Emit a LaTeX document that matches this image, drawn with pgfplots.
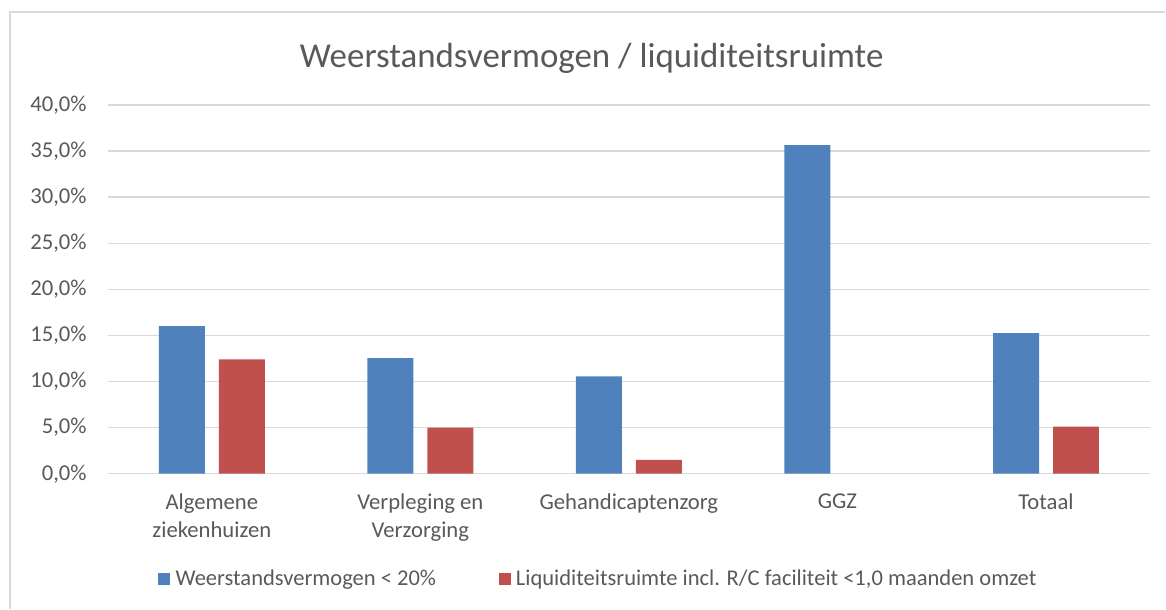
\documentclass[border=0pt]{standalone}
\usepackage{pgfplots}
\pgfplotsset{compat=1.18}
\usepackage{fontspec}
\setmainfont{Carlito}
\definecolor{cblue}{HTML}{4F81BD}
\definecolor{cred}{HTML}{C0504D}
\definecolor{ctext}{HTML}{595959}
\definecolor{cgrid}{HTML}{D9D9D9}
\begin{document}
\begin{tikzpicture}
\path (0pt,0pt) rectangle (874.5pt,-456.75pt);
\draw[cgrid, line width=1pt] (7.5pt,-456.75pt) -- (7.5pt,-9pt) -- (874.5pt,-9pt);
\node[text=ctext, font=\fontsize{26.2}{30}\selectfont, inner sep=0pt] at (444pt,-43.5pt) {Weerstandsvermogen / liquiditeitsruimte};
\begin{axis}[
  at={(80.7pt,-355.5pt)}, anchor=south west,
  scale only axis, width=782.5pt, height=276.75pt,
  xmin=-0.5, xmax=4.5, ymin=0, ymax=40,
  ytick={0,5,...,40},
  xtick={0,1,2,3,4},
  xticklabels={{Algemene\\ziekenhuizen},{Verpleging en\\Verzorging},Gehandicaptenzorg,GGZ,Totaal},
  axis x line*=bottom, axis y line*=left,
  x axis line style={cgrid, line width=1pt, -},
  y axis line style={draw=none},
  ymajorgrids, grid style={cgrid, line width=1pt},
  major tick length=0pt,
  tick style={draw=none},
  /pgf/number format/assume math mode=true,
  yticklabel={\pgfmathprintnumber[fixed,fixed zerofill,precision=1,use comma]{\tick}\%},
  yticklabel style={anchor=east, inner sep=0pt, xshift=-15.5pt, text=ctext, font=\fontsize{17}{20}\selectfont},
  xticklabel style={anchor=north, inner sep=0pt, yshift=-15pt, align=center, text=ctext, font=\fontsize{17}{21}\selectfont},
  ybar, bar width=34.5pt,
  legend columns=2,
  legend style={at={(0.471,-0.2846)}, anchor=center, draw=none, fill=none,
    font=\fontsize{16.9}{20}\selectfont, text=ctext,
    /tikz/every odd column/.append style={column sep=2pt},
    /tikz/every even column/.append style={column sep=45pt}},
  legend image code/.code={\fill[#1] (0pt,-4.5pt) rectangle (9pt,4.5pt);},
]
\addplot[fill=cblue, draw=none, bar shift=-22.5pt] coordinates {(0,16.0) (1,12.55) (2,10.55) (3,35.65) (4,15.25)};
\addlegendentry{Weerstandsvermogen < 20\%}
\addplot[fill=cred, draw=none, bar shift=22.5pt] coordinates {(0,12.4) (1,5.0) (2,1.5) (4,5.1)};
\addlegendentry{Liquiditeitsruimte incl. R/C faciliteit <1,0 maanden omzet}
\end{axis}
\end{tikzpicture}
\end{document}
